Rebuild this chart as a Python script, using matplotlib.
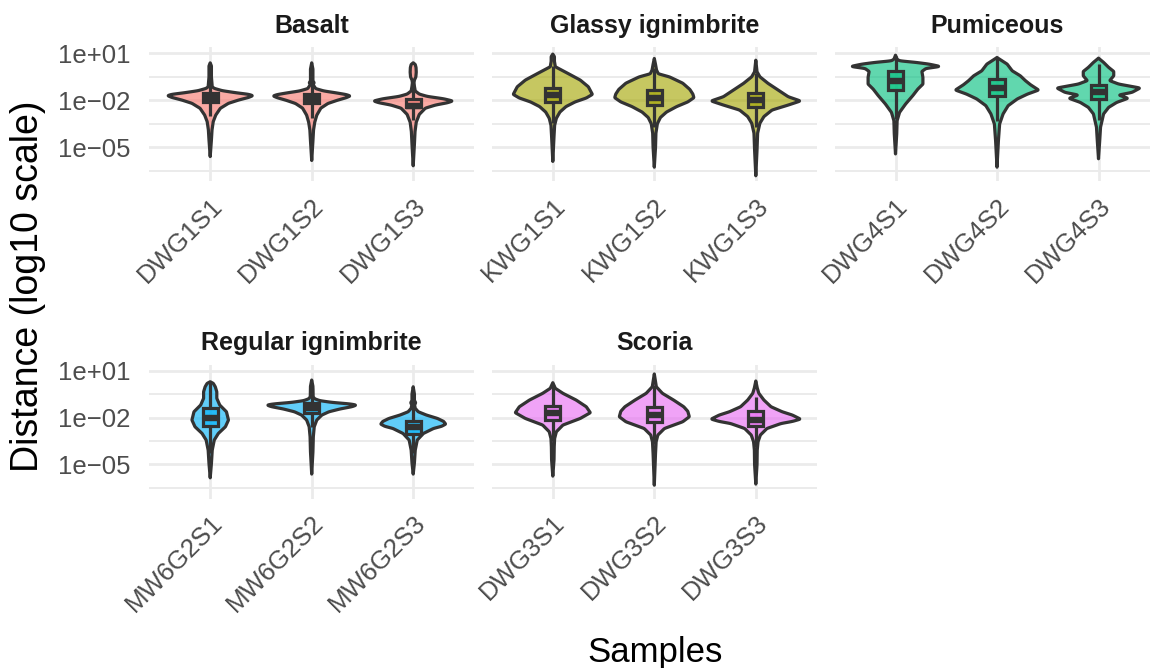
import numpy as np
import matplotlib
matplotlib.use("Agg")
import matplotlib.pyplot as plt
from matplotlib.patches import Polygon, Rectangle
from matplotlib.ticker import FixedLocator, FixedFormatter, NullFormatter
from matplotlib.colors import to_rgba

plt.rcParams['font.family'] = ['Liberation Sans', 'DejaVu Sans']

# ---------------- data ----------------
groups = ["Basalt", "Glassy ignimbrite", "Pumiceous", "Regular ignimbrite", "Scoria"]
group_samples = [
    ["DWG1S1", "DWG1S2", "DWG1S3"],
    ["KWG1S1", "KWG1S2", "KWG1S3"],
    ["DWG4S1", "DWG4S2", "DWG4S3"],
    ["MW6G2S1", "MW6G2S2", "MW6G2S3"],
    ["DWG3S1", "DWG3S2", "DWG3S3"],
]
group_colors = ["#F8766D", "#A3A500", "#00BF7D", "#00B0F6", "#E76BF3"]

y_major = [1e1, 1e-2, 1e-5]
y_major_labels = ["1e+01", "1e\u221202", "1e\u221205"]
y_minor_log = [-0.5, -3.5, -6.5]

# violin density profiles: log10(distance) levels and half-widths (x units)
DWG1S1_log = [0.40, 0.2, -0.5, -1.13, -1.234, -1.383, -1.51, -1.617, -1.70, -1.81, -1.98, -2.19, -2.51, -2.94, -3.36, -3.89, -4.53, -5.6]
DWG1S1_hw = [0.0, 0.012, 0.012, 0.02, 0.04, 0.12, 0.25, 0.38, 0.42, 0.38, 0.28, 0.18, 0.10, 0.055, 0.03, 0.018, 0.012, 0.0]
DWG1S2_log = [0.40, 0.0, -0.75, -0.87, -1.0, -1.25, -1.4, -1.52, -1.63, -1.72, -1.83, -2.0, -2.2, -2.5, -2.95, -3.4, -3.9, -4.6, -5.85]
DWG1S2_hw = [0.0, 0.012, 0.012, 0.024, 0.014, 0.04, 0.12, 0.24, 0.34, 0.38, 0.34, 0.25, 0.16, 0.09, 0.05, 0.03, 0.018, 0.012, 0.0]
DWG1S3_log = [0.40, 0.30, 0.1, -0.2, -0.5, -0.7, -0.87, -1.1, -1.4, -1.6, -1.75, -1.9, -2.04, -2.15, -2.3, -2.5, -2.9, -3.4, -4.0, -4.8, -6.19]
DWG1S3_hw = [0.0, 0.02, 0.028, 0.03, 0.026, 0.012, 0.008, 0.012, 0.02, 0.06, 0.14, 0.30, 0.39, 0.34, 0.22, 0.12, 0.06, 0.03, 0.018, 0.012, 0.0]

KWG1S1_log = [0.96, 0.8, 0.5, 0.15, -0.28, -0.7, -1.13, -1.62, -1.85, -2.1, -2.4, -2.75, -3.15, -3.6, -4.3, -5.91]
KWG1S1_hw = [0.0, 0.016, 0.016, 0.025, 0.15, 0.27, 0.35, 0.39, 0.33, 0.22, 0.13, 0.07, 0.035, 0.018, 0.012, 0.0]
KWG1S2_log = [0.68, 0.3, -0.06, -0.3, -0.5, -0.9, -1.3, -1.6, -1.83, -2.1, -2.4, -2.75, -3.1, -3.5, -4.1, -5.0, -6.28]
KWG1S2_hw = [0.0, 0.012, 0.022, 0.04, 0.15, 0.28, 0.35, 0.38, 0.39, 0.33, 0.22, 0.12, 0.06, 0.03, 0.016, 0.012, 0.0]
KWG1S3_log = [0.57, -0.17, -0.49, -0.91, -1.34, -1.77, -2.04, -2.3, -2.62, -3.04, -3.47, -4.1, -5.17, -6.83]
KWG1S3_hw = [0.0, 0.012, 0.04, 0.12, 0.22, 0.32, 0.44, 0.32, 0.16, 0.08, 0.04, 0.018, 0.012, 0.0]

DWG4S1_log = [0.89, 0.64, 0.53, 0.43, 0.32, 0.17, 0.04, -0.15, -0.53, -0.96, -1.28, -1.70, -2.23, -2.77, -3.30, -4.15, -5.43]
DWG4S1_hw = [0.0, 0.015, 0.04, 0.20, 0.33, 0.44, 0.30, 0.26, 0.27, 0.27, 0.22, 0.17, 0.10, 0.04, 0.016, 0.012, 0.0]
DWG4S2_log = [0.74, 0.53, 0.32, -0.11, -0.43, -0.74, -1.0, -1.34, -1.6, -1.91, -2.34, -2.87, -3.51, -4.57, -6.28]
DWG4S2_hw = [0.0, 0.05, 0.10, 0.15, 0.23, 0.28, 0.33, 0.41, 0.30, 0.20, 0.11, 0.06, 0.026, 0.014, 0.0]
DWG4S3_log = [0.70, 0.43, 0.11, -0.15, -0.43, -0.74, -0.96, -1.21, -1.49, -1.66, -1.87, -2.13, -2.45, -2.87, -3.72, -4.57, -5.74]
DWG4S3_hw = [0.0, 0.05, 0.10, 0.15, 0.15, 0.11, 0.20, 0.41, 0.33, 0.20, 0.29, 0.18, 0.10, 0.05, 0.02, 0.012, 0.0]

MW6G2S1_log = [0.29, 0.19, -0.03, -0.35, -0.77, -1.2, -1.63, -2.16, -2.59, -3.02, -3.44, -4.09, -4.94, -5.86]
MW6G2S1_hw = [0.0, 0.03, 0.05, 0.065, 0.065, 0.094, 0.16, 0.18, 0.15, 0.08, 0.04, 0.02, 0.012, 0.0]
MW6G2S2_log = [0.40, 0.0, -0.67, -0.8, -0.92, -1.03, -1.13, -1.2, -1.3, -1.45, -1.63, -1.84, -2.16, -2.59, -3.23, -4.2, -5.62]
MW6G2S2_hw = [0.0, 0.012, 0.014, 0.03, 0.08, 0.20, 0.38, 0.44, 0.40, 0.28, 0.17, 0.10, 0.05, 0.025, 0.016, 0.012, 0.0]
MW6G2S3_log = [-0.03, -0.5, -0.9, -1.05, -1.2, -1.41, -1.63, -1.84, -2.06, -2.25, -2.42, -2.56, -2.7, -3.02, -3.44, -4.09, -4.9, -5.62]
MW6G2S3_hw = [0.0, 0.012, 0.012, 0.024, 0.014, 0.02, 0.05, 0.13, 0.24, 0.30, 0.32, 0.28, 0.20, 0.10, 0.04, 0.02, 0.012, 0.0]

DWG3S1_log = [0.23, -0.13, -0.45, -0.88, -1.31, -1.69, -2.06, -2.48, -2.91, -3.34, -3.87, -4.7, -5.75]
DWG3S1_hw = [0.0, 0.025, 0.10, 0.23, 0.33, 0.37, 0.27, 0.10, 0.035, 0.018, 0.014, 0.012, 0.0]
DWG3S2_log = [0.79, 0.3, -0.03, -0.45, -0.88, -1.31, -1.6, -1.95, -2.27, -2.7, -3.12, -3.55, -4.3, -6.33]
DWG3S2_hw = [0.0, 0.012, 0.02, 0.08, 0.19, 0.29, 0.33, 0.345, 0.28, 0.10, 0.035, 0.018, 0.012, 0.0]
DWG3S3_log = [0.34, -0.1, -0.45, -0.88, -1.31, -1.63, -1.84, -2.1, -2.25, -2.38, -2.7, -3.12, -3.55, -4.09, -5.0, -6.26]
DWG3S3_hw = [0.0, 0.014, 0.03, 0.08, 0.15, 0.26, 0.36, 0.44, 0.36, 0.25, 0.11, 0.045, 0.022, 0.014, 0.012, 0.0]

# boxplot statistics (log10 scale), in sample order
box_q3 = [-1.55, -1.6, -1.9, -1.19, -1.36, -1.55, -0.09, -0.66, -1.04, -1.39, -1.07, -2.2, -1.24, -1.35, -1.6]
box_med = [-1.85, -1.9, -2.34, -1.66, -1.83, -2.0, -0.74, -1.21, -1.49, -2.01, -1.41, -2.59, -1.69, -1.84, -2.16]
box_q1 = [-2.13, -2.2, -2.45, -2.1, -2.3, -2.4, -1.34, -1.72, -1.94, -2.55, -1.69, -3.04, -2.14, -2.29, -2.55]
whisk_hi = [-0.68, -0.7, -1.08, 0.18, 0.05, -0.28, 0.85, 0.70, 0.31, 0.25, -0.14, -0.94, 0.11, 0.06, -0.67]
whisk_lo = [-3.0, -3.1, -3.28, -3.47, -3.71, -3.68, -3.2, -3.31, -3.29, -4.29, -2.62, -4.3, -3.49, -3.7, -3.9]

profiles = {
    "DWG1S1": (DWG1S1_log, DWG1S1_hw), "DWG1S2": (DWG1S2_log, DWG1S2_hw), "DWG1S3": (DWG1S3_log, DWG1S3_hw),
    "KWG1S1": (KWG1S1_log, KWG1S1_hw), "KWG1S2": (KWG1S2_log, KWG1S2_hw), "KWG1S3": (KWG1S3_log, KWG1S3_hw),
    "DWG4S1": (DWG4S1_log, DWG4S1_hw), "DWG4S2": (DWG4S2_log, DWG4S2_hw), "DWG4S3": (DWG4S3_log, DWG4S3_hw),
    "MW6G2S1": (MW6G2S1_log, MW6G2S1_hw), "MW6G2S2": (MW6G2S2_log, MW6G2S2_hw), "MW6G2S3": (MW6G2S3_log, MW6G2S3_hw),
    "DWG3S1": (DWG3S1_log, DWG3S1_hw), "DWG3S2": (DWG3S2_log, DWG3S2_hw), "DWG3S3": (DWG3S3_log, DWG3S3_hw),
}

# ---------------- style ----------------
W, H = 1150, 668
DPI = 100
LINE = "#333333"
GRID = "#EBEBEB"
ALPHA = 0.62
LW = 2.3
BOX_W = 0.15

fig = plt.figure(figsize=(W / DPI, H / DPI), dpi=DPI)
fig.patch.set_facecolor("white")

panel_w = 324.8
col_x = [149.3, 491.9, 834.6]
row_top = [47.4, 364.6]
panel_h = 134.0
ylim_log = (-7.19, 1.39)


def draw_violin(ax, pos, logs, hws, color):
    logs = np.asarray(logs, float)
    hws = np.asarray(hws, float)
    order = np.argsort(logs)
    lg, hw = logs[order], hws[order]
    fine = np.linspace(lg[0], lg[-1], 700)
    w = np.interp(fine, lg, hw)
    k = np.exp(-0.5 * (np.arange(-6, 7) / 2.5) ** 2)
    k /= k.sum()
    w = np.convolve(np.pad(w, 6, mode="edge"), k, mode="valid")
    w[0] = 0.0
    w[-1] = 0.0
    xs = np.concatenate([pos + w, (pos - w)[::-1]])
    ys = np.concatenate([10 ** fine, (10 ** fine)[::-1]])
    poly = Polygon(np.column_stack([xs, ys]), closed=True,
                   facecolor=to_rgba(color, ALPHA), edgecolor=LINE,
                   linewidth=LW, joinstyle="round", zorder=2)
    ax.add_patch(poly)


idx = 0
for g, (gname, samples, color) in enumerate(zip(groups, group_samples, group_colors)):
    r, c = divmod(g, 3)
    left = col_x[c] / W
    bottom = 1 - (row_top[r] + panel_h) / H
    ax = fig.add_axes([left, bottom, panel_w / W, panel_h / H])
    ax.set_facecolor("white")
    ax.set_yscale("log")
    ax.set_xlim(0.4, 3.6)
    ax.set_ylim(10 ** ylim_log[0], 10 ** ylim_log[1])
    for s in ax.spines.values():
        s.set_visible(False)

    ax.yaxis.set_major_locator(FixedLocator(y_major))
    ax.yaxis.set_minor_locator(FixedLocator([10 ** v for v in y_minor_log]))
    ax.yaxis.set_minor_formatter(NullFormatter())
    if c == 0:
        ax.yaxis.set_major_formatter(FixedFormatter(y_major_labels))
    else:
        ax.yaxis.set_major_formatter(NullFormatter())
    ax.set_xticks([1, 2, 3])
    ax.set_xticklabels(samples)
    ax.xaxis.set_minor_locator(FixedLocator([]))
    ax.tick_params(axis="both", which="both", length=0)
    ax.tick_params(axis="y", which="major", pad=13.5, labelsize=18.5, labelcolor="#4D4D4D")
    ax.tick_params(axis="x", which="major", pad=9, labelsize=18.5, labelcolor="#4D4D4D")
    for lab in ax.get_xticklabels():
        lab.set_rotation(45)
        lab.set_ha("right")
        lab.set_va("top")
        lab.set_rotation_mode("anchor")

    ax.grid(True, which="major", axis="both", color=GRID, linewidth=2.0, zorder=0)
    ax.grid(True, which="minor", axis="y", color=GRID, linewidth=1.4, zorder=0)
    ax.set_axisbelow(True)

    for j, sname in enumerate(samples):
        pos = j + 1
        lg, hw = profiles[sname]
        draw_violin(ax, pos, lg, hw, color)
        # whiskers
        ax.plot([pos, pos], [10 ** box_q3[idx], 10 ** whisk_hi[idx]], color=LINE, lw=LW,
                solid_capstyle="butt", zorder=3)
        ax.plot([pos, pos], [10 ** box_q1[idx], 10 ** whisk_lo[idx]], color=LINE, lw=LW,
                solid_capstyle="butt", zorder=3)
        # box
        rect = Rectangle((pos - BOX_W / 2, 10 ** box_q1[idx]), BOX_W,
                         10 ** box_q3[idx] - 10 ** box_q1[idx],
                         facecolor=to_rgba(color, ALPHA), edgecolor=LINE, linewidth=LW,
                         zorder=4)
        ax.add_patch(rect)
        ax.plot([pos - BOX_W / 2, pos + BOX_W / 2], [10 ** box_med[idx]] * 2, color=LINE,
                lw=LW * 2, solid_capstyle="butt", zorder=5)
        idx += 1

    ax.annotate(gname, xy=(0.5, 1.0), xycoords="axes fraction", xytext=(0, 10.4),
                textcoords="offset points", ha="center", va="baseline",
                fontsize=18, fontweight="bold", color="#1A1A1A")

fig.text(28 / W, 1 - 286 / H, "Distance (log10 scale)", rotation=90, ha="center",
         va="center", fontsize=27, color="black")
fig.text(655 / W, 1 - 662 / H, "Samples", ha="center", va="baseline", fontsize=25,
         color="black")

fig.savefig("out.png", dpi=DPI, facecolor="white")
